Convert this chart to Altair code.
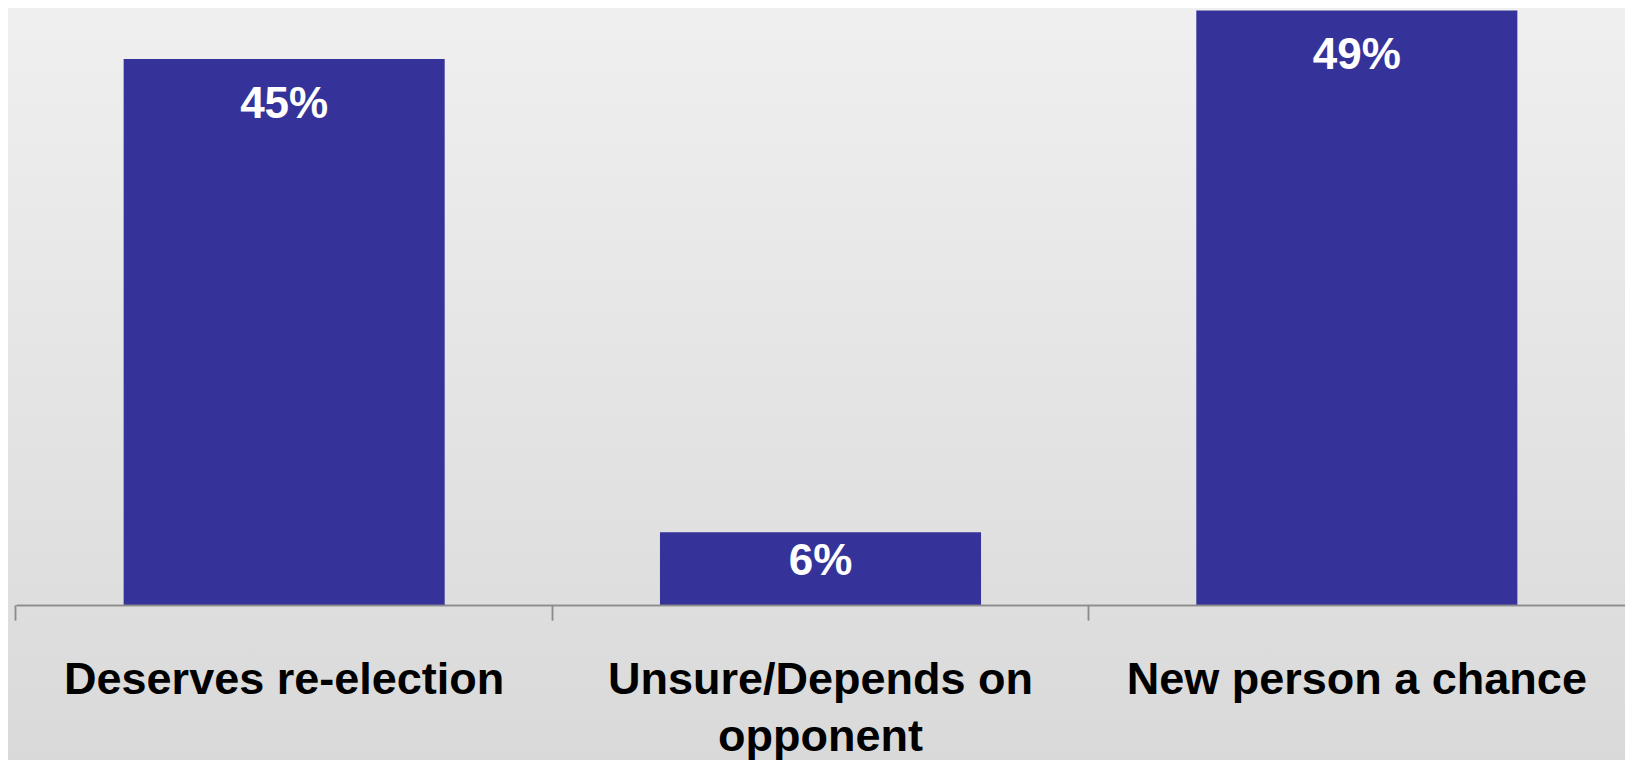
import altair as alt
import pandas as pd

categories = ["Deserves re-election", "Unsure/Depends on opponent", "New person a chance"]
values = [45, 6, 49]
labels = ["45%", "6%", "49%"]

df = pd.DataFrame({"cat": categories, "val": values, "lab": labels})

W = 1609
H = 597
BAR = "#353399"
FONT = "Liberation Sans"
PI = 0.4014

xscale = alt.Scale(paddingInner=PI, paddingOuter=PI / 2)
yscale = alt.Scale(domain=[0, 49.2], nice=False, zero=True)
tick_band = -(PI / 2) / (1 - PI)

bg = alt.Chart(pd.DataFrame({"a": [0]})).mark_rect(
    clip=False,
    fill=alt.Gradient(
        gradient="linear",
        stops=[alt.GradientStop(color="#f0f0f0", offset=0),
               alt.GradientStop(color="#d8d8d8", offset=1)],
        x1=0, x2=0, y1=0, y2=1,
    ),
).encode(x=alt.value(-20), x2=alt.value(W + 20), y=alt.value(-20), y2=alt.value(H + 200))

label_expr = ("datum.label == 'Unsure/Depends on opponent' ? "
              "['Unsure/Depends on', 'opponent'] : datum.label")

bars = alt.Chart(df).mark_bar(color=BAR).encode(
    x=alt.X("cat:N", sort=None, scale=xscale, title=None,
            axis=alt.Axis(orient="bottom", ticks=False, domain=False, labelAngle=0,
                          labelFont=FONT, labelFontSize=45, labelFontWeight="bold",
                          labelColor="#000000", labelLimit=0, labelPadding=52,
                          labelLineHeight=57, labelExpr=label_expr, labelBaseline="top",
                          zindex=2)),
    y=alt.Y("val:Q", scale=yscale, axis=None),
)

tick_axis = alt.Axis(orient="bottom", labels=False, ticks=True, domain=True,
                     bandPosition=tick_band, tickSize=15, tickColor="#8c8c8c", tickWidth=1.5,
                     domainColor="#8c8c8c", domainWidth=1.5, grid=False, zindex=2)

text_big = alt.Chart(df).transform_filter("datum.val >= 10").mark_text(
    font=FONT, fontSize=44, fontWeight="bold", color="white", baseline="middle", dy=46
).encode(
    x=alt.X("cat:N", sort=None, scale=xscale, title=None, axis=tick_axis),
    y=alt.Y("val:Q", scale=yscale, axis=None),
    text="lab:N",
)

text_small = alt.Chart(df).transform_filter("datum.val < 10").mark_text(
    font=FONT, fontSize=44, fontWeight="bold", color="white", baseline="middle", dy=30
).encode(
    x=alt.X("cat:N", sort=None, scale=xscale, title=None, axis=tick_axis),
    y=alt.Y("val:Q", scale=yscale, axis=None),
    text="lab:N",
)

chart = alt.layer(bg, bars, text_big, text_small).resolve_axis(x="independent").properties(
    width=W, height=H,
    autosize=alt.AutoSizeParams(type="none"),
    padding={"left": 8, "top": 0, "right": 0, "bottom": 160},
).configure_view(stroke=None).configure(background="#efefef")

chart.save("out.html", embed_options={"renderer": "svg", "actions": False})
